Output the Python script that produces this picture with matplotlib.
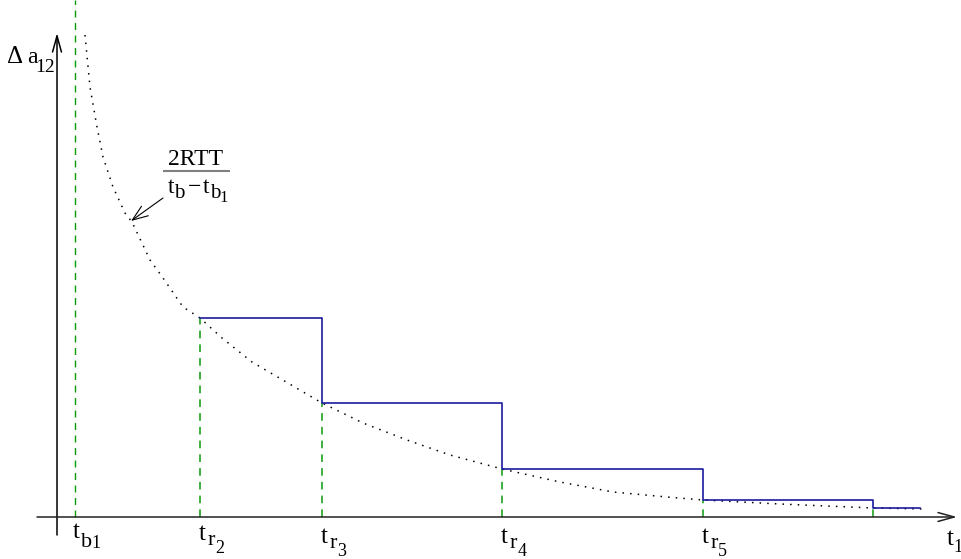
import matplotlib
matplotlib.use("Agg")
import matplotlib.pyplot as plt

plt.rcParams['font.family'] = ['Liberation Serif', 'DejaVu Serif']

# time of the first burst and the instants where the rate is updated
t_b1 = 18
t_r = [143, 265, 445, 646, 816]
t_end = 863
# step values of Delta a_12 after each update
levels = [199, 114, 48, 17, 9]

# bound 2RTT / (t_b - t_b1)
curve_t = [28, 33, 40, 46, 56, 68, 75, 93, 106, 126, 143, 165, 195, 265,
           306, 350, 393, 445, 503, 556, 610, 646, 723, 816, 866]
curve_a = [482, 430, 390, 360, 330, 304, 295, 257, 239, 210, 199, 179, 155, 114,
           94, 77, 62, 48, 35, 25, 20, 17, 13, 9, 8]

# tick labels t_{b_1}, t_{r_2} ... t_{r_5}
tick_pos = [t_b1] + t_r[:4]
tick_sub = ['b', 'r', 'r', 'r', 'r']
tick_idx = ['1', '2', '3', '4', '5']

green = '#0a9a0a'
blue = '#1a1aa0'

fig = plt.figure(figsize=(9.61, 5.59), dpi=100)
ax = fig.add_axes([0, 0, 1, 1])
ax.set_xlim(-57, 904)
ax.set_ylim(-42, 517)
ax.axis('off')
renderer = fig.canvas.get_renderer()
inv = ax.transData.inverted()


def chain(x, y, pieces):
    """Write text pieces one after another: (text, size, drop below baseline, gap)."""
    for s, size, drop, gap in pieces:
        t = ax.text(x + gap, y - drop, s, fontsize=size, ha='left', va='baseline')
        bb = t.get_window_extent(renderer)
        x = inv.transform((bb.x1, bb.y0))[0]


# axes with open arrow heads
head = '->,head_length=0.58,head_width=0.16'
ax.annotate('', xy=(0, 484), xytext=(0, -18),
            arrowprops=dict(arrowstyle=head, lw=1.1, color='black',
                            shrinkA=0, shrinkB=0, mutation_scale=20))
ax.annotate('', xy=(900, 0), xytext=(-20, 0),
            arrowprops=dict(arrowstyle=head, lw=1.1, color='#222222',
                            shrinkA=0, shrinkB=0, mutation_scale=20))

# first burst marker
ax.plot([t_b1, t_b1], [0, 517], color=green, lw=1.0, dashes=(5, 4))

# dotted bound
ax.plot(curve_t, curve_a, color='black', lw=1.1, linestyle=(0, (1, 4)))

# drop lines under each step
ax.vlines(t_r, 0, levels, colors=green, lw=1.1, linestyles=(0, (5, 4)))

# staircase rate
ax.step(t_r + [t_end], levels + [levels[-1]], where='post', color=blue, lw=1.2)

# time labels under the axis
for x, s, k in zip(tick_pos, tick_sub, tick_idx):
    if s == 'b':
        chain(x - 2, -21, [('t', 18, 0, 0), (s, 16, 9, 1), (k, 13, 10, -1)])
    else:
        base = -23 if k == '2' else -26
        chain(x - 1, base, [('t', 18, 0, 0), (s, 16, 5, 2), (k, 13, 13, 0)])
chain(890, -28, [('t', 18, 0, 0), ('1', 13, 7, 0)])

# vertical axis label
chain(-50, 454, [('Δ', 18, 0, 0), ('a', 17, 0, 4), ('12', 14, 9, -2)])

# bound label and its pointer
chain(111, 352, [('2RTT', 17, 0, 0)])
ax.plot([106, 173], [346, 346], color='#808080', lw=1.5, solid_capstyle='butt')
chain(111, 324, [('t', 17, 0, 0), ('b', 15, 5, 0), ('−', 17, 0, 3),
                 ('t', 17, 0, 2), ('b', 15, 5, 0), ('1', 12, 9, -1)])
ax.annotate('', xy=(74, 296), xytext=(106, 319),
            arrowprops=dict(arrowstyle='->,head_length=0.8,head_width=0.3', lw=0.8,
                            color='black', shrinkA=0, shrinkB=0, mutation_scale=14))

fig.savefig('out.png', dpi=100)
